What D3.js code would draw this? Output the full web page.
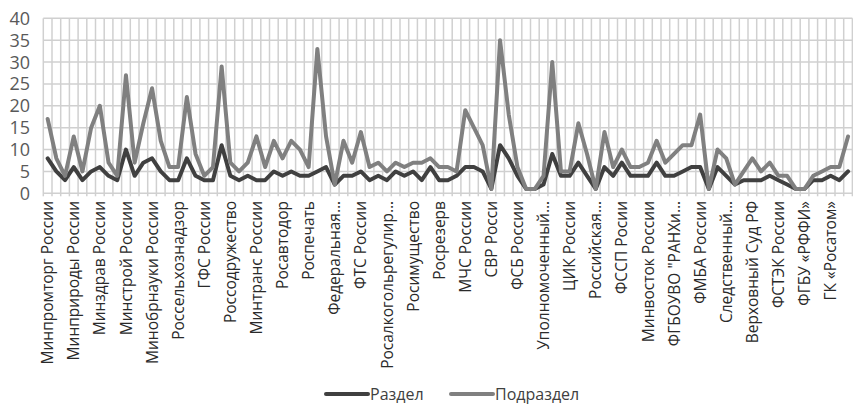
<!DOCTYPE html>
<html><head><meta charset="utf-8">
<script src="https://cdn.jsdelivr.net/npm/d3@7"></script>
<style>body{margin:0;background:#fff}svg{display:block}</style>
</head><body>
<script>
// Shown category labels (every third category is labelled on the axis)
const labels = ["Минпромторг России","Минприроды России","Минздрав России","Минстрой России","Минобрнауки России","Россельхознадзор","ГФС России","Россодружество","Минтранс России","Росавтодор","Роспечать","Федеральная…","ФТС России","Росалкогольрегулир…","Росимущество","Росрезерв","МЧС России","СВР Росси","ФСБ России","Уполномоченный…","ЦИК России","Российская…","ФССП Росии","Минвосток России","ФГБОУВО \"РАНХи…","ФМБА России","Следственный…","Верховный Суд РФ","ФСТЭК России","ФГБУ «РФФИ»","ГК «Росатом»"];
const seriesNames = ["Раздел","Подраздел"];
const razdel = [8,5,3,6,3,5,6,4,3,10,4,7,8,5,3,3,8,4,3,3,11,4,3,4,3,3,5,4,5,4,4,5,6,2,4,4,5,3,4,3,5,4,5,3,6,3,3,4,6,6,5,1,11,8,4,1,1,2,9,4,4,7,4,1,6,4,7,4,4,4,7,4,4,5,6,6,1,6,4,2,3,3,3,4,3,2,1,1,3,3,4,3,5];
const podrazdel = [17,8,4,13,5,15,20,7,4,27,7,16,24,12,6,6,22,9,4,6,29,7,5,7,13,6,12,8,12,10,6,33,13,2,12,7,14,6,7,5,7,6,7,7,8,6,6,5,19,15,11,1,35,18,6,1,1,4,30,5,5,16,9,1,14,6,10,6,6,7,12,7,9,11,11,18,1,10,8,2,5,8,5,7,4,4,1,1,4,5,6,6,13];
const yTicks = [0,5,10,15,20,25,30,35,40];
const colors = ["#404040","#808080"];

const W = 853, H = 409;
const FONT = "'Open Sans', 'Liberation Sans', sans-serif";
const svg = d3.select("body").append("svg").attr("width", W).attr("height", H);
const pL = 43.3, pR = 852.4, pT = 18.3, pB = 193.3;
const idx = d3.range(razdel.length);
const x = d3.scaleBand().domain(idx).range([pL, pR]).padding(0);
const y = d3.scaleLinear().domain([0, 40]).range([pB, pT]);
const cx = i => x(i) + x.bandwidth() / 2;

const grid = svg.append("g").attr("stroke", "#d0d0d0").attr("stroke-width", 1.5);
grid.selectAll("line.h").data(yTicks).join("line").attr("class","h")
  .attr("x1", pL).attr("x2", pR).attr("y1", d => y(d)).attr("y2", d => y(d));
grid.selectAll("line.v").data(d3.range(idx.length + 1)).join("line").attr("class","v")
  .attr("x1", d => pL + d * x.bandwidth()).attr("x2", d => pL + d * x.bandwidth())
  .attr("y1", pT).attr("y2", pB + 3);

// y axis labels
svg.append("g").selectAll("text").data(yTicks).join("text")
  .attr("x", 30).attr("y", d => y(d)).attr("dy", "0.36em")
  .attr("text-anchor", "end").attr("fill", "#595959")
  .style("font-family", FONT).style("font-size", "18px")
  .text(d => d);

// x axis labels
svg.append("g").selectAll("text").data(labels).join("text")
  .attr("transform", (d, k) => `translate(${cx(k * 3)},201) rotate(-90)`)
  .attr("dy", "0.36em").attr("text-anchor", "end").attr("fill", "#2a2a2a")
  .style("font-family", FONT).style("font-size", "15.5px")
  .text(d => d);

const line = d3.line().x((d, i) => cx(i)).y(d => y(d));
[razdel, podrazdel].forEach((s, k) => {
  svg.append("path").datum(s).attr("d", line).attr("fill", "none")
    .attr("stroke", colors[k]).attr("stroke-width", 4)
    .attr("stroke-linejoin", "round").attr("stroke-linecap", "round");
});

// legend
const lg = svg.append("g");
const legX = [326, 451];
seriesNames.forEach((n, k) => {
  lg.append("line").attr("x1", legX[k]).attr("x2", legX[k] + 42).attr("y1", 394).attr("y2", 394)
    .attr("stroke", colors[k]).attr("stroke-width", 4).attr("stroke-linecap", "round");
  lg.append("text").attr("x", legX[k] + 44).attr("y", 394).attr("dy", "0.36em")
    .attr("fill", "#404040").style("font-family", FONT)
    .style("font-size", "16px").text(n);
});
</script>
</body></html>
